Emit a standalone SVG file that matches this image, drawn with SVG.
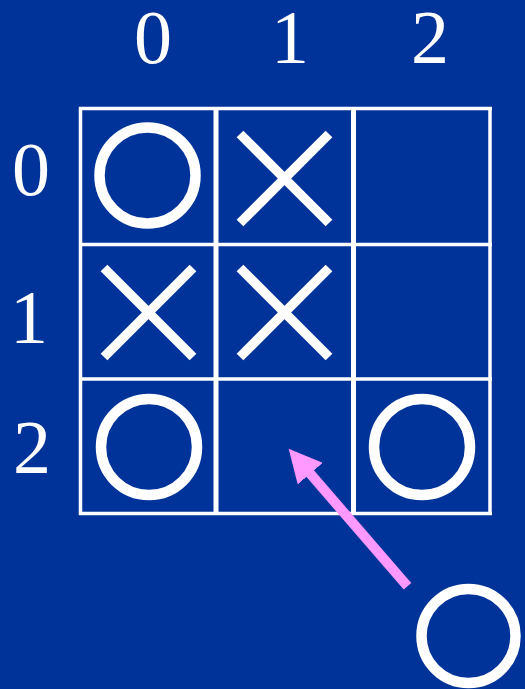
<svg xmlns="http://www.w3.org/2000/svg" width="525" height="689" viewBox="0 0 525 689">
<style>
.lbl{font-family:"Liberation Serif","Times New Roman",serif;font-size:76px;fill:#fff;text-anchor:middle}
.grid{stroke:#fff;fill:none}
.o{fill:none;stroke:#fff;stroke-width:10.5}
.x{stroke:#fff;stroke-width:9.5;stroke-linecap:butt}
</style>
<defs>
<marker id="ah" viewBox="0 0 33 33" refX="0.5" refY="16.5" markerWidth="33" markerHeight="33" markerUnits="userSpaceOnUse" orient="auto">
<path d="M0,0 L33,16.5 L0,33 z" fill="#ff99ff"/>
</marker>
</defs>
<rect width="525" height="689" fill="#003399"/>
<g id="labels">
<text class="lbl" x="153" y="63">0</text>
<text class="lbl" x="290" y="63">1</text>
<text class="lbl" x="430" y="63">2</text>
<text class="lbl" x="31" y="195">0</text>
<text class="lbl" x="29" y="343">1</text>
<text class="lbl" x="32" y="473">2</text>
</g>
<g id="board" class="grid">
<line x1="79" y1="108.5" x2="492" y2="108.5" stroke-width="3.5"/>
<line x1="79" y1="244.5" x2="492" y2="244.5" stroke-width="3.5"/>
<line x1="79" y1="379" x2="492" y2="379" stroke-width="3.5"/>
<line x1="79" y1="513.5" x2="492" y2="513.5" stroke-width="3.5"/>
<line x1="80.5" y1="107" x2="80.5" y2="515" stroke-width="3.5"/>
<line x1="216" y1="107" x2="216" y2="515" stroke-width="5"/>
<line x1="353.5" y1="107" x2="353.5" y2="515" stroke-width="5"/>
<line x1="490" y1="107" x2="490" y2="515" stroke-width="3.5"/>
</g>
<g id="cell-0-0"><circle class="o" cx="147.5" cy="175.5" r="48"/></g>
<g id="cell-0-1"><line class="x" x1="240" y1="134" x2="329" y2="223"/><line class="x" x1="329" y1="134" x2="240" y2="223"/></g>
<g id="cell-1-0"><line class="x" x1="104" y1="268" x2="193" y2="357"/><line class="x" x1="193" y1="268" x2="104" y2="357"/></g>
<g id="cell-1-1"><line class="x" x1="240" y1="268" x2="329" y2="357"/><line class="x" x1="329" y1="268" x2="240" y2="357"/></g>
<g id="cell-2-0"><circle class="o" cx="149" cy="447" r="48"/></g>
<g id="cell-2-2"><circle class="o" cx="422" cy="447" r="48"/></g>
<g id="new-o"><circle class="o" cx="468.5" cy="636" r="47"/></g>
<g id="connectors">
<line x1="407.5" y1="586.3" x2="309.9" y2="473.3" stroke="#ff99ff" stroke-width="10" marker-end="url(#ah)"/>
</g>
</svg>
